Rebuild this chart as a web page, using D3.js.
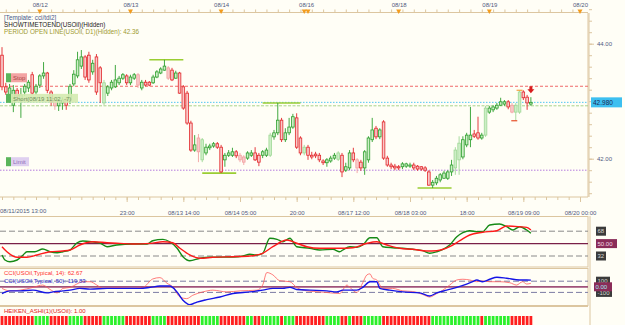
<!doctype html>
<html lang="en">
<head>
<meta charset="utf-8">
<title>USOil H1</title>
<script src="https://d3js.org/d3.v7.min.js"></script>
<style>
  html, body { margin: 0; padding: 0; background: #fffef6; }
  svg { display: block; font-family: "Liberation Sans", Arial, sans-serif; }
  .axis path, .axis line { stroke: #dcc6a0; }
  .axis text { fill: #4f5a80; font-size: 6px; }
</style>
</head>
<body>
<div id="chart"></div>
<script>
// hourly candles, index 0 = 08/11 14:00
const open = [43.80,43.25,43.11,42.93,43.19,43.02,43.16,43.23,43.46,43.16,
  43.28,43.44,43.49,43.16,43.02,42.92,42.97,43.02,43.02,43.30,
  43.44,43.61,43.77,43.80,43.51,43.77,43.58,42.97,43.14,43.23,
  43.25,43.32,43.40,43.44,43.32,43.40,43.46,43.23,43.33,43.33,
  43.32,43.42,43.49,43.54,43.58,43.54,43.40,43.49,43.25,43.14,
  42.62,42.15,42.36,41.98,42.10,42.19,42.22,42.26,42.20,41.98,
  42.06,42.06,42.12,42.06,42.03,42.01,42.06,42.10,42.06,42.06,
  42.06,42.06,42.38,42.45,42.67,42.33,42.45,42.55,42.71,42.36,
  42.10,42.20,42.06,42.08,42.06,41.96,41.93,41.96,42.01,41.99,
  42.06,41.80,41.84,42.10,41.98,41.94,41.84,41.98,42.33,42.53,
  42.38,42.64,42.01,41.89,41.87,41.86,41.86,41.87,41.87,41.89,
  41.87,41.86,41.84,41.77,41.54,41.58,41.63,41.66,41.66,41.77,
  41.84,41.98,42.03,42.24,42.33,42.43,42.45,42.36,42.41,42.81,
  42.85,42.88,42.93,42.95,42.99,42.93,42.81,42.81,43.16,43.07,
  42.95];
const high = [43.94,43.32,43.30,43.28,43.23,43.23,43.30,43.37,43.51,43.30,
  43.47,43.68,43.51,43.19,43.06,43.04,43.07,43.06,43.30,43.54,
  43.86,43.89,43.80,43.86,43.72,43.82,43.61,43.37,43.28,43.37,
  43.63,43.44,43.49,43.47,43.46,43.49,43.49,43.37,43.37,43.35,
  43.46,43.54,43.59,43.72,43.61,43.58,43.53,43.51,43.28,43.18,
  42.66,42.41,42.43,42.36,42.26,42.26,42.29,42.29,42.24,42.10,
  42.15,42.19,42.15,42.10,42.06,42.13,42.15,42.20,42.10,42.15,
  42.19,42.45,42.50,42.97,42.71,42.53,42.71,42.78,42.79,42.39,
  42.24,42.24,42.12,42.12,42.10,41.99,42.01,42.05,42.10,42.13,
  42.10,41.93,42.15,42.19,42.01,41.98,42.15,42.39,42.71,42.57,
  42.53,42.67,42.05,41.93,41.91,41.89,41.94,41.93,41.93,41.93,
  41.89,41.87,41.87,41.80,41.63,41.70,41.75,41.79,41.80,41.98,
  42.20,42.39,42.39,42.45,42.90,42.50,42.73,42.45,42.92,42.92,
  42.93,42.97,43.06,43.02,43.02,42.97,42.97,43.19,43.19,43.11,
  43.07];
const low = [43.19,43.11,43.02,42.81,43.02,42.71,43.09,43.16,43.11,43.11,
  43.23,43.39,43.14,42.92,42.85,42.83,42.85,42.85,42.95,43.26,
  43.40,43.56,43.37,43.32,43.46,43.11,42.97,42.93,43.09,43.19,
  43.23,43.28,43.37,43.28,43.28,43.37,43.23,43.19,43.26,43.26,
  43.30,43.40,43.47,43.53,43.37,43.35,43.39,43.13,42.85,42.59,
  42.12,42.12,41.94,41.94,42.06,42.15,42.19,42.17,41.75,41.86,
  42.03,42.03,42.01,41.94,41.89,41.98,42.03,41.96,41.87,42.01,
  42.03,42.03,42.33,42.41,42.29,42.29,42.41,42.52,42.17,42.06,
  42.06,41.98,41.99,42.01,41.94,41.89,41.86,41.93,41.98,41.96,
  41.68,41.77,41.80,41.94,41.75,41.79,41.72,41.93,42.29,42.34,
  42.34,41.98,41.86,41.82,41.80,41.80,41.82,41.84,41.84,41.80,
  41.79,41.79,41.77,41.53,41.49,41.54,41.59,41.65,41.63,41.70,
  41.72,41.72,41.99,42.20,42.20,42.36,42.33,42.33,42.38,42.78,
  42.81,42.85,42.92,42.92,42.86,42.79,42.66,42.78,43.02,42.85,
  42.92];
const close = [43.25,43.16,43.23,43.19,43.09,43.11,43.26,43.33,43.14,43.26,
  43.44,43.49,43.19,42.99,42.92,43.00,43.02,42.93,43.26,43.47,
  43.72,43.77,43.42,43.37,43.66,43.16,43.32,43.32,43.25,43.33,
  43.37,43.40,43.46,43.32,43.42,43.46,43.28,43.33,43.28,43.28,
  43.42,43.51,43.56,43.61,43.40,43.37,43.49,43.14,42.88,42.62,
  42.15,42.24,42.12,42.33,42.20,42.22,42.26,42.20,41.77,42.06,
  42.10,42.12,42.05,41.98,41.94,42.10,42.10,41.98,41.94,42.12,
  42.15,42.41,42.45,42.67,42.33,42.45,42.55,42.73,42.20,42.10,
  42.20,42.06,42.03,42.05,41.98,41.93,41.98,42.01,42.06,42.10,
  41.77,41.86,42.10,41.98,41.84,41.84,42.12,42.36,42.50,42.38,
  42.50,42.01,41.89,41.86,41.84,41.84,41.91,41.91,41.89,41.84,
  41.82,41.82,41.80,41.54,41.59,41.66,41.72,41.75,41.77,41.89,
  42.15,42.27,42.33,42.41,42.41,42.39,42.36,42.41,42.88,42.88,
  42.90,42.93,42.99,42.99,42.90,42.81,42.93,43.16,43.06,42.97,
  42.98];
// candles drawn pale in the screenshot
const fadedIdx = [14,27,36,44,52,53,63,64,71,80,89,94,120,121,128,135,136,137];

// day high / low marks: [from, to, price]
const dayMarks = [[39,48,43.72],[53,62,41.75],[69,79,42.97],[110,119,41.49]];
// order markers: [index, price]
const orderMarks = [[137,43.19],[135.6,42.66]];

const stopPrice = 43.26, shortPrice = 42.98, breakEvenPrice = 42.92, limitPrice = 41.80;
const lastPrice = '42.980';

// top axis: day boundaries
const dayIdx = [10,34,58,80,81,105,129,153];
const dayLabelIdx = [10,34,58,80.5,105,129,153];
const dayLabels = ['08/12','08/13','08/14','08/16','08/18','08/19','08/20'];
// bottom axis
const firstTimeLabel = '08/11/2015 13:00';
const timeIdx = [33,48,63,78,93,108,123,138,153];
const timeLabels = ['23:00','08/13 14:00','08/14 05:00','20:00','08/17 12:00','08/18 03:00','18:00','08/19 09:00','08/20 00:00'];
const priceTicks = [42.0,44.0];

// stochastic: [index, value]
const stochK = [[0,33.5],[0.8,26.2],[2.1,23.7],[4,26.2],[5.6,33.5],[6.6,38.2],[8.7,38.2],[10.8,42.2],
  [12.7,38.2],[14.6,36.8],[16.1,38.2],[18,40.7],[19.8,50.9],[21.4,53.8],[23.8,52.7],[25.9,50.9],
  [27.8,45.5],[30.4,48.0],[34.7,49.4],[38.4,49.4],[39.9,54.2],[42.6,56.2],[44.4,52.7],[46.3,43.6],
  [47.9,31.0],[49.7,25.2],[52.4,28.7],[55,30.1],[61.1,30.5],[63.8,32.0],[65.6,34.5],[67.5,33.5],
  [69,35.9],[70.9,57.7],[72.8,56.2],[74.3,52.7],[76.2,57.7],[78,45.5],[81.5,43.2],[84.1,40.7],
  [87.6,41.7],[89.4,38.2],[90.2,40.7],[92.1,45.5],[93.9,44.6],[95.5,48.0],[97.4,58.6],[99.2,58.6],
  [100.8,45.5],[103.4,44.0],[106.1,43.2],[108.7,41.7],[111.4,39.7],[113.2,35.9],[115.1,38.2],[116.7,41.7],
  [118.5,48.0],[120.4,60.0],[122,65.8],[123.8,68.7],[125.7,67.3],[127.2,67.3],[129.1,77.0],[131.7,78.4],
  [133.6,74.5],[135.2,69.7],[137,74.5],[138.9,69.7],[140,64.9]];
const stochD = [[0,45.5],[1.3,38.2],[4,30.1],[6.6,30.1],[9.3,33.5],[12.7,38.2],[16.1,39.3],[18,40.7],
  [20.6,48.0],[24.1,52.7],[27.8,51.3],[31.2,50.3],[34.7,49.4],[39.2,50.3],[42.6,52.7],[45.2,51.3],
  [47.1,43.2],[49.7,33.5],[52.4,28.7],[55.8,30.1],[61.1,31.0],[65.6,32.0],[69,35.9],[71.7,45.5],
  [75.4,55.2],[78,50.5],[80.7,45.5],[84.1,43.2],[89.4,43.2],[92.9,44.0],[96.6,50.5],[99.2,52.7],
  [101.9,48.0],[105.3,43.2],[108.7,41.7],[112.4,39.3],[115.1,39.7],[118.5,45.5],[121.2,54.2],[123.8,62.5],
  [127.2,66.4],[131,68.7],[133.6,75.5],[137,74.5],[138.9,73.6],[140,69.7]];

// CCI: [index, value]
const cci14 = [[0,-29],[2.1,-73],[4.8,-60],[8.2,-11],[10.8,31],[12.7,-47],[14.6,-109],[16.1,-29],
  [18,-11],[19.8,49],[21.4,91],[23.3,91],[25.1,31],[26.7,-29],[30.4,-18],[33.9,-29],[37.3,-11],
  [39.9,140],[41.8,164],[43.7,62],[45.2,0],[47.1,-182],[48.9,-211],[50.5,-151],[53.2,-91],[55.8,-60],
  [59.5,-91],[63,-73],[67.5,-60],[69,31],[70.1,255],[71.7,213],[73.5,109],[76.2,91],[78,-11],
  [80.7,-73],[84.1,-91],[86,-102],[89.4,-120],[91.3,31],[92.1,-11],[93.9,-102],[95.5,73],[96.6,213],
  [97.4,231],[98.1,153],[99.2,122],[100.8,-29],[103.4,-29],[106.1,-73],[108.7,-84],[111.4,-138],
  [113.2,-182],[115.1,-120],[116.7,-60],[118.5,31],[120.4,122],[122,135],[123.8,122],[125.7,91],
  [127.2,104],[129.1,91],[131.7,91],[134.4,73],[136.2,31],[137.8,91],[138.9,49],[140,62.67]];
const cci50 = [[0,-120],[2.1,-73],[4.8,-73],[8.2,-60],[11.9,-109],[13.5,-91],[16.1,-73],[18,-60],
  [20.6,-29],[23.3,-42],[27.8,-29],[36.5,-29],[39.2,-11],[41.8,13],[44.4,13],[46.3,-91],[47.9,-242],
  [49.7,-320],[51.6,-273],[54.2,-229],[57.7,-182],[61.1,-120],[65.6,-91],[69,-60],[71.7,-29],[74.3,-29],
  [76.2,-11],[78,-47],[81.5,-60],[86,-73],[88.6,-91],[90.2,-60],[93.9,-60],[95.5,-11],[97.4,91],
  [99.2,91],[100,-29],[102.6,-60],[106.1,-91],[110.6,-109],[113.2,-164],[115.1,-109],[117.7,-60],
  [120.4,-11],[123,49],[124.6,91],[125.7,122],[127.2,91],[129.1,135],[131,171],[133.6,153],
  [137,122],[138.9,122],[140,119.83]];

// Heiken Ashi colour per candle (r = bearish, g = bullish)
const haColor = ('rrrrrrrrr'+'gggg'+'rrrrr'+'gggg'+'rrrrr'+'gggggg'+'rrrrrrr'+'gggg'+'rrrrrrrrr'+
  'ggggg'+'rrrrrrr'+'gg'+'rr'+'ggggg'+'r'+'ggg'+'rrrrrrrr'+'gggg'+'rr'+'g'+'rrr'+'ggggg'+
  'rrrrrrrrrrrrr'+'ggggggggggggg'+'r'+'ggggggg'+'rrrrrr').split('');

const W = 625, H = 325;
const tan = '#dcc6a0';
const svg = d3.select('#chart').append('svg').attr('width', W).attr('height', H);

const x = d3.scaleLinear().domain([0, 153]).range([2, 580]);
const yP = d3.scaleLinear().domain([42, 44]).range([158.7, 43.7]);
const yS = d3.scaleLinear().domain([32, 68]).range([256, 231.2]);
const yC = d3.scaleLinear().domain([-100, 100]).range([292.4, 281.2]);

const defs = svg.append('defs');
defs.append('clipPath').attr('id', 'cMain').append('rect').attr('x', 0).attr('y', 13).attr('width', 588).attr('height', 184);
defs.append('clipPath').attr('id', 'cStoch').append('rect').attr('x', 0).attr('y', 217).attr('width', 588).attr('height', 50);
defs.append('clipPath').attr('id', 'cCci').append('rect').attr('x', 0).attr('y', 269).attr('width', 588).attr('height', 36);

// ---------- top time axis ----------
const topAx = svg.append('g').attr('class', 'axis').attr('transform', 'translate(0,12.5)');
topAx.call(d3.axisTop(x).tickValues(d3.range(1, 154, 3)).tickSize(3).tickFormat(''));
topAx.select('.domain').attr('d', 'M0,0H588');
svg.append('g').attr('class', 'axis').attr('transform', 'translate(0,8)')
  .call(d3.axisTop(x).tickValues(dayLabelIdx).tickSize(0).tickPadding(1)
    .tickFormat((d, i) => dayLabels[i]))
  .select('.domain').remove();
svg.selectAll('.daymark').data(dayIdx).join('path')
  .attr('class', 'daymark')
  .attr('d', d => `M${x(d) - 2.5},9.5H${x(d) + 2.5}L${x(d)},14Z`)
  .attr('fill', '#f39c1e');

// ---------- main panel ----------
svg.append('line').attr('x1', 588).attr('x2', 588).attr('y1', 13).attr('y2', 197).attr('stroke', tan);
const main = svg.append('g').attr('clip-path', 'url(#cMain)');

const levels = [
  {p: stopPrice, c: '#f06a6a', dash: '3,2'},
  {p: shortPrice, c: '#52c6f2', dash: '1.5,1.5'},
  {p: breakEvenPrice, c: '#a9d38a', dash: '3,1.5'},
  {p: limitPrice, c: '#b47ade', dash: '1.5,1.5'}
];
main.selectAll('.lvl').data(levels).join('line')
  .attr('x1', 0).attr('x2', 588)
  .attr('y1', d => yP(d.p)).attr('y2', d => yP(d.p))
  .attr('stroke', d => d.c).attr('stroke-dasharray', d => d.dash).attr('stroke-width', 1);

main.selectAll('.daylvl').data(dayMarks).join('line')
  .attr('x1', d => x(d[0])).attr('x2', d => x(d[1]))
  .attr('y1', d => yP(d[2])).attr('y2', d => yP(d[2]))
  .attr('stroke', '#9acd32').attr('stroke-width', 1.6);

const faded = new Set(fadedIdx);
const candles = open.map((o, i) => ({i, o, h: high[i], l: low[i], c: close[i]}));
const cStroke = d => {
  const up = d.c >= d.o;
  if (faded.has(d.i)) return up ? '#9fd896' : '#f2a0a0';
  return up ? '#2c9f2c' : '#e2262a';
};
const cFill = d => (d.c >= d.o) ? '#cdeec6' : '#f9c9c9';
main.selectAll('.wick').data(candles).join('line')
  .attr('x1', d => x(d.i)).attr('x2', d => x(d.i))
  .attr('y1', d => yP(d.h)).attr('y2', d => yP(d.l))
  .attr('stroke', cStroke).attr('stroke-width', 0.9);
main.selectAll('.body').data(candles).join('rect')
  .attr('x', d => x(d.i) - 1.3).attr('width', 2.6)
  .attr('y', d => yP(Math.max(d.o, d.c)))
  .attr('height', d => Math.max(1, yP(Math.min(d.o, d.c)) - yP(Math.max(d.o, d.c))))
  .attr('fill', cFill).attr('stroke', cStroke).attr('stroke-width', 0.8);

main.selectAll('.omark').data(orderMarks).join('line')
  .attr('x1', d => x(d[0]) - 3).attr('x2', d => x(d[0]) + 3)
  .attr('y1', d => yP(d[1])).attr('y2', d => yP(d[1]))
  .attr('stroke', (d, i) => i ? '#e8502a' : '#f5a040').attr('stroke-width', 1.2);

// sell arrow over last candle
const ax = x(140), ay = yP(stopPrice);
main.append('path')
  .attr('d', `M${ax - 1.5},${ay}h3v3h2l-3.5,4l-3.5,-4h2z`)
  .attr('fill', '#d81e1e');

// order labels
function tag(yTop, w, fill, txt, col) {
  svg.append('rect').attr('x', 6).attr('y', yTop).attr('width', 5).attr('height', 9).attr('fill', '#5bb55b');
  svg.append('rect').attr('x', 11).attr('y', yTop).attr('width', w).attr('height', 9).attr('fill', fill).attr('opacity', 0.9);
  svg.append('text').attr('x', 13).attr('y', yTop + 6.8).attr('font-size', 6).attr('fill', col).text(txt);
}
tag(yP(stopPrice) - 13, 16, '#f29a9a', 'Stop', '#a84444');
tag(yP(shortPrice) - 8.5, 67, '#d4eab0', 'Short(08/19 11:02, -7)', '#6f8f5c');
tag(yP(limitPrice) - 13, 18, '#dccbef', 'Limit', '#8e6cb6');

// template text
svg.append('text').attr('x', 4).attr('y', 20).attr('font-size', 6.3).attr('fill', '#4a5a8c').text('[Template: cci/tdi2]');
svg.append('text').attr('x', 4).attr('y', 27).attr('font-size', 6.3).attr('fill', '#222').text('SHOWTIMETOEND(USOil)(Hidden)');
svg.append('text').attr('x', 4).attr('y', 34).attr('font-size', 6.3).attr('fill', '#9e9a30').text('PERIOD OPEN LINE(USOil, D1)(Hidden): 42.36');

// price axis
const pAx = svg.append('g').attr('class', 'axis').attr('transform', 'translate(589,0)');
pAx.call(d3.axisRight(yP).tickValues(d3.range(41.4, 44.6, 0.2)).tickSize(3).tickFormat(''));
pAx.select('.domain').attr('d', 'M0,13V197');
svg.append('g').attr('class', 'axis').attr('transform', 'translate(589,0)')
  .call(d3.axisRight(yP).tickValues(priceTicks).tickSize(5).tickPadding(3).tickFormat(d3.format('.2f')))
  .select('.domain').remove();
svg.append('rect').attr('x', 591).attr('y', yP(+lastPrice) - 5).attr('width', 31).attr('height', 10).attr('fill', '#3dbff0');
svg.append('text').attr('x', 593).attr('y', yP(+lastPrice) + 2.3).attr('font-size', 6.5).attr('fill', '#1c2a55').text(lastPrice);

// bottom time axis
const bAx = svg.append('g').attr('class', 'axis').attr('transform', 'translate(0,197)');
bAx.call(d3.axisBottom(x).tickValues(d3.range(0, 154, 3)).tickSize(3).tickFormat(''));
bAx.select('.domain').attr('d', 'M0,0H588');
svg.append('g').attr('class', 'axis').attr('transform', 'translate(0,197)')
  .call(d3.axisBottom(x).tickValues(timeIdx).tickSize(5).tickPadding(9).tickFormat((d, i) => timeLabels[i]))
  .select('.domain').remove();
svg.append('text').attr('x', 0).attr('y', 213).attr('font-size', 6).attr('fill', '#4f5a80').text(firstTimeLabel);

// ---------- stochastic panel ----------
svg.append('rect').attr('x', -1).attr('y', 216.5).attr('width', 589).attr('height', 50.5).attr('fill', 'none').attr('stroke', tan);
svg.append('line').attr('x1', 590).attr('x2', 590).attr('y1', 216).attr('y2', 268).attr('stroke', tan);
const st = svg.append('g').attr('clip-path', 'url(#cStoch)');
[68, 32].forEach(v => st.append('line').attr('x1', 0).attr('x2', 588).attr('y1', yS(v)).attr('y2', yS(v))
  .attr('stroke', '#8a8a8a').attr('stroke-dasharray', '6,3'));
st.append('line').attr('x1', 0).attr('x2', 588).attr('y1', yS(50)).attr('y2', yS(50)).attr('stroke', '#7a2048').attr('stroke-width', 1.2);
const lS = d3.line().x(d => x(d[0])).y(d => yS(d[1])).curve(d3.curveMonotoneX);
st.append('path').datum(stochK).attr('d', lS).attr('fill', 'none').attr('stroke', '#168a16').attr('stroke-width', 1.4);
st.append('path').datum(stochD).attr('d', lS).attr('fill', 'none').attr('stroke', '#ff1a1a').attr('stroke-width', 1.4);
function vbox(xx, yy, w, fill, txt, col) {
  svg.append('rect').attr('x', xx).attr('y', yy - 4.5).attr('width', w).attr('height', 9).attr('fill', fill);
  svg.append('text').attr('x', xx + 1.5).attr('y', yy + 2.2).attr('font-size', 6).attr('fill', col).text(txt);
}
vbox(596, yS(68), 10, '#3b3b3b', '68', '#d8d8d8');
vbox(596, yS(32), 10, '#3b3b3b', '32', '#d8d8d8');
vbox(596, yS(50), 21, '#8a2c58', '50.00', '#f4d8e6');

// ---------- CCI panel ----------
svg.append('rect').attr('x', -1).attr('y', 268.5).attr('width', 589).attr('height', 37).attr('fill', 'none').attr('stroke', tan);
svg.append('line').attr('x1', 590).attr('x2', 590).attr('y1', 268).attr('y2', 306).attr('stroke', tan);
const cc = svg.append('g').attr('clip-path', 'url(#cCci)');
[100, -100].forEach(v => cc.append('line').attr('x1', 0).attr('x2', 588).attr('y1', yC(v)).attr('y2', yC(v))
  .attr('stroke', '#7c7ca4').attr('stroke-dasharray', '6,3'));
cc.append('line').attr('x1', 0).attr('x2', 588).attr('y1', yC(0)).attr('y2', yC(0)).attr('stroke', '#a0527a').attr('stroke-width', 1.8);
const lC = d3.line().x(d => x(d[0])).y(d => yC(d[1])).curve(d3.curveMonotoneX);
cc.append('path').datum(cci14).attr('d', lC).attr('fill', 'none').attr('stroke', '#ff5a5a').attr('stroke-width', 0.8);
cc.append('path').datum(cci50).attr('d', lC).attr('fill', 'none').attr('stroke', '#1414e6').attr('stroke-width', 1.4);
svg.append('text').attr('x', 4).attr('y', 274.5).attr('font-size', 6).attr('fill', '#ff3030').text('CCI(USOil,Typical, 14): 62.67');
svg.append('text').attr('x', 4).attr('y', 282.5).attr('font-size', 6).attr('fill', '#3030d0').text('CCI(USOil,Typical, 50): 119.83');
vbox(596, yC(100), 14, '#3b3b3b', '100', '#d8d8d8');
vbox(596, yC(-100), 16, '#3b3b3b', '-100', '#d8d8d8');
vbox(594, yC(0), 18, '#8a2c58', '0.00', '#9fe6f6');

// ---------- Heiken Ashi panel ----------
svg.append('line').attr('x1', 0).attr('x2', 588).attr('y1', 306.5).attr('y2', 306.5).attr('stroke', tan);
svg.append('line').attr('x1', 590).attr('x2', 590).attr('y1', 306).attr('y2', 325).attr('stroke', tan);
svg.append('text').attr('x', 4).attr('y', 313).attr('font-size', 6).attr('fill', '#e02020').text('HEIKEN_ASHI(1)(USOil): 1.00');
svg.selectAll('.ha').data(haColor).join('rect')
  .attr('x', (d, i) => x(i) - 1.4).attr('width', 2.8)
  .attr('y', 316).attr('height', 10)
  .attr('fill', d => d === 'g' ? '#2bf02b' : '#ff1e1e');
</script>
</body>
</html>
